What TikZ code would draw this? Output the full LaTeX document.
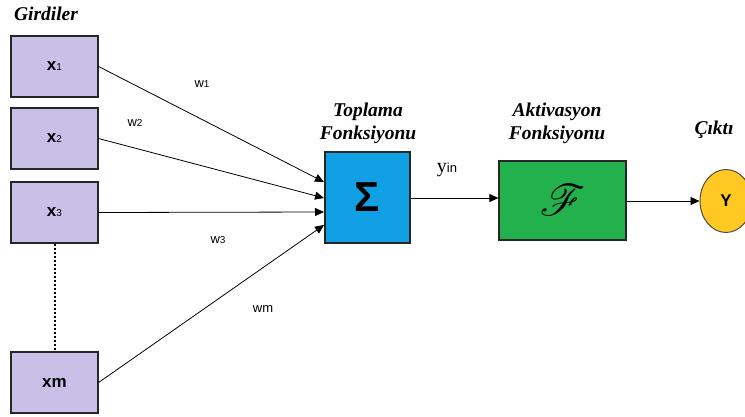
\documentclass[tikz,border=0pt]{standalone}
\usepackage{fontspec}
\usepackage{mathrsfs}
\usepackage{graphicx}
\setmainfont{Liberation Serif}
\newfontfamily\sansf{Liberation Sans}
\usetikzlibrary{arrows.meta,shapes.geometric}
\definecolor{lav}{HTML}{C8C0E6}
\definecolor{sigblue}{HTML}{12A0E4}
\definecolor{actgreen}{HTML}{22B14C}
\definecolor{outyel}{HTML}{FFC822}
\newcommand{\smalldig}[1]{{\mdseries\fontsize{10}{11}\selectfont #1}}
\begin{document}
\begin{tikzpicture}[x=1pt,y=-1pt,
  inbox/.style={draw=black!85,line width=1.2pt,fill=lav,minimum width=87pt,minimum height=61pt,inner sep=0pt,font=\sansf\bfseries\fontsize{17}{19}\selectfont},
  title/.style={font=\bfseries\itshape\fontsize{19.5}{23}\selectfont,align=center},
  wlab/.style={font=\sansf\fontsize{13}{15}\selectfont},
  conn/.style={line width=0.8pt,-{Triangle[length=9pt,width=8pt]}}]
\useasboundingbox (0,0) rectangle (745,416);
\node[title] (gird) at (46,14) {Girdiler};
\node[inbox] (x1) at (54.5,66.5) {x\smalldig{1}};
\node[inbox] (x2) at (54.5,138.5) {x\smalldig{2}};
\node[inbox] (x3) at (54.5,212.5) {x\smalldig{3}};
\node[inbox] (xm) at (54.5,382.5) {xm};
\node[draw=black!85,line width=1.2pt,fill=sigblue,minimum width=85pt,minimum height=91pt,inner sep=0pt,font=\sansf\bfseries\fontsize{42}{46}\selectfont] (sig) at (367.5,197.5) {Σ};
\node[title] (topl) at (368,123) {Toplama\\Fonksiyonu};
\node[draw=black!85,line width=1.2pt,fill=actgreen,minimum width=127pt,minimum height=79pt,inner sep=0pt] (act) at (562.5,200.5) {\scalebox{4.4}{$\mathscr{F}$}};
\node[title] (aktv) at (557,123) {Aktivasyon\\Fonksiyonu};
\node[draw=black!70,line width=1pt,fill=outyel,ellipse,minimum width=52pt,minimum height=63pt,inner sep=0pt,font=\sansf\bfseries\fontsize{17}{19}\selectfont] (y) at (726,201) {Y};
\node[title] (cikti) at (714,130) {Çıktı};
\coordinate (e1) at (324,182);
\coordinate (e2) at (324,198);
\coordinate (e3) at (324,212);
\coordinate (e4) at (324,225);
\draw[conn] (x1.east) -- (e1);
\draw[conn] (x2.east) -- (e2);
\draw[conn] (x3.east) -- (e3);
\draw[conn] (xm.east) -- (e4);
\draw[line width=2pt,dash pattern=on 2pt off 2pt] (x3.south) -- (xm.north);
\node[wlab] (w1) at (202,84) {w\smalldig{1}};
\node[wlab] (w2) at (135,123) {w\smalldig{2}};
\node[wlab] (w3) at (218,240) {w\smalldig{3}};
\node[wlab] (wm) at (263,309) {wm};
\draw[conn] (sig.east |- 0,198) -- (act.west |- 0,198);
\node[font=\fontsize{20}{22}\selectfont] (yin) at (447,170) {y{\sansf\fontsize{13}{14}\selectfont in}};
\draw[conn] (act.east |- y.west) -- (y.west);
\end{tikzpicture}
\end{document}
